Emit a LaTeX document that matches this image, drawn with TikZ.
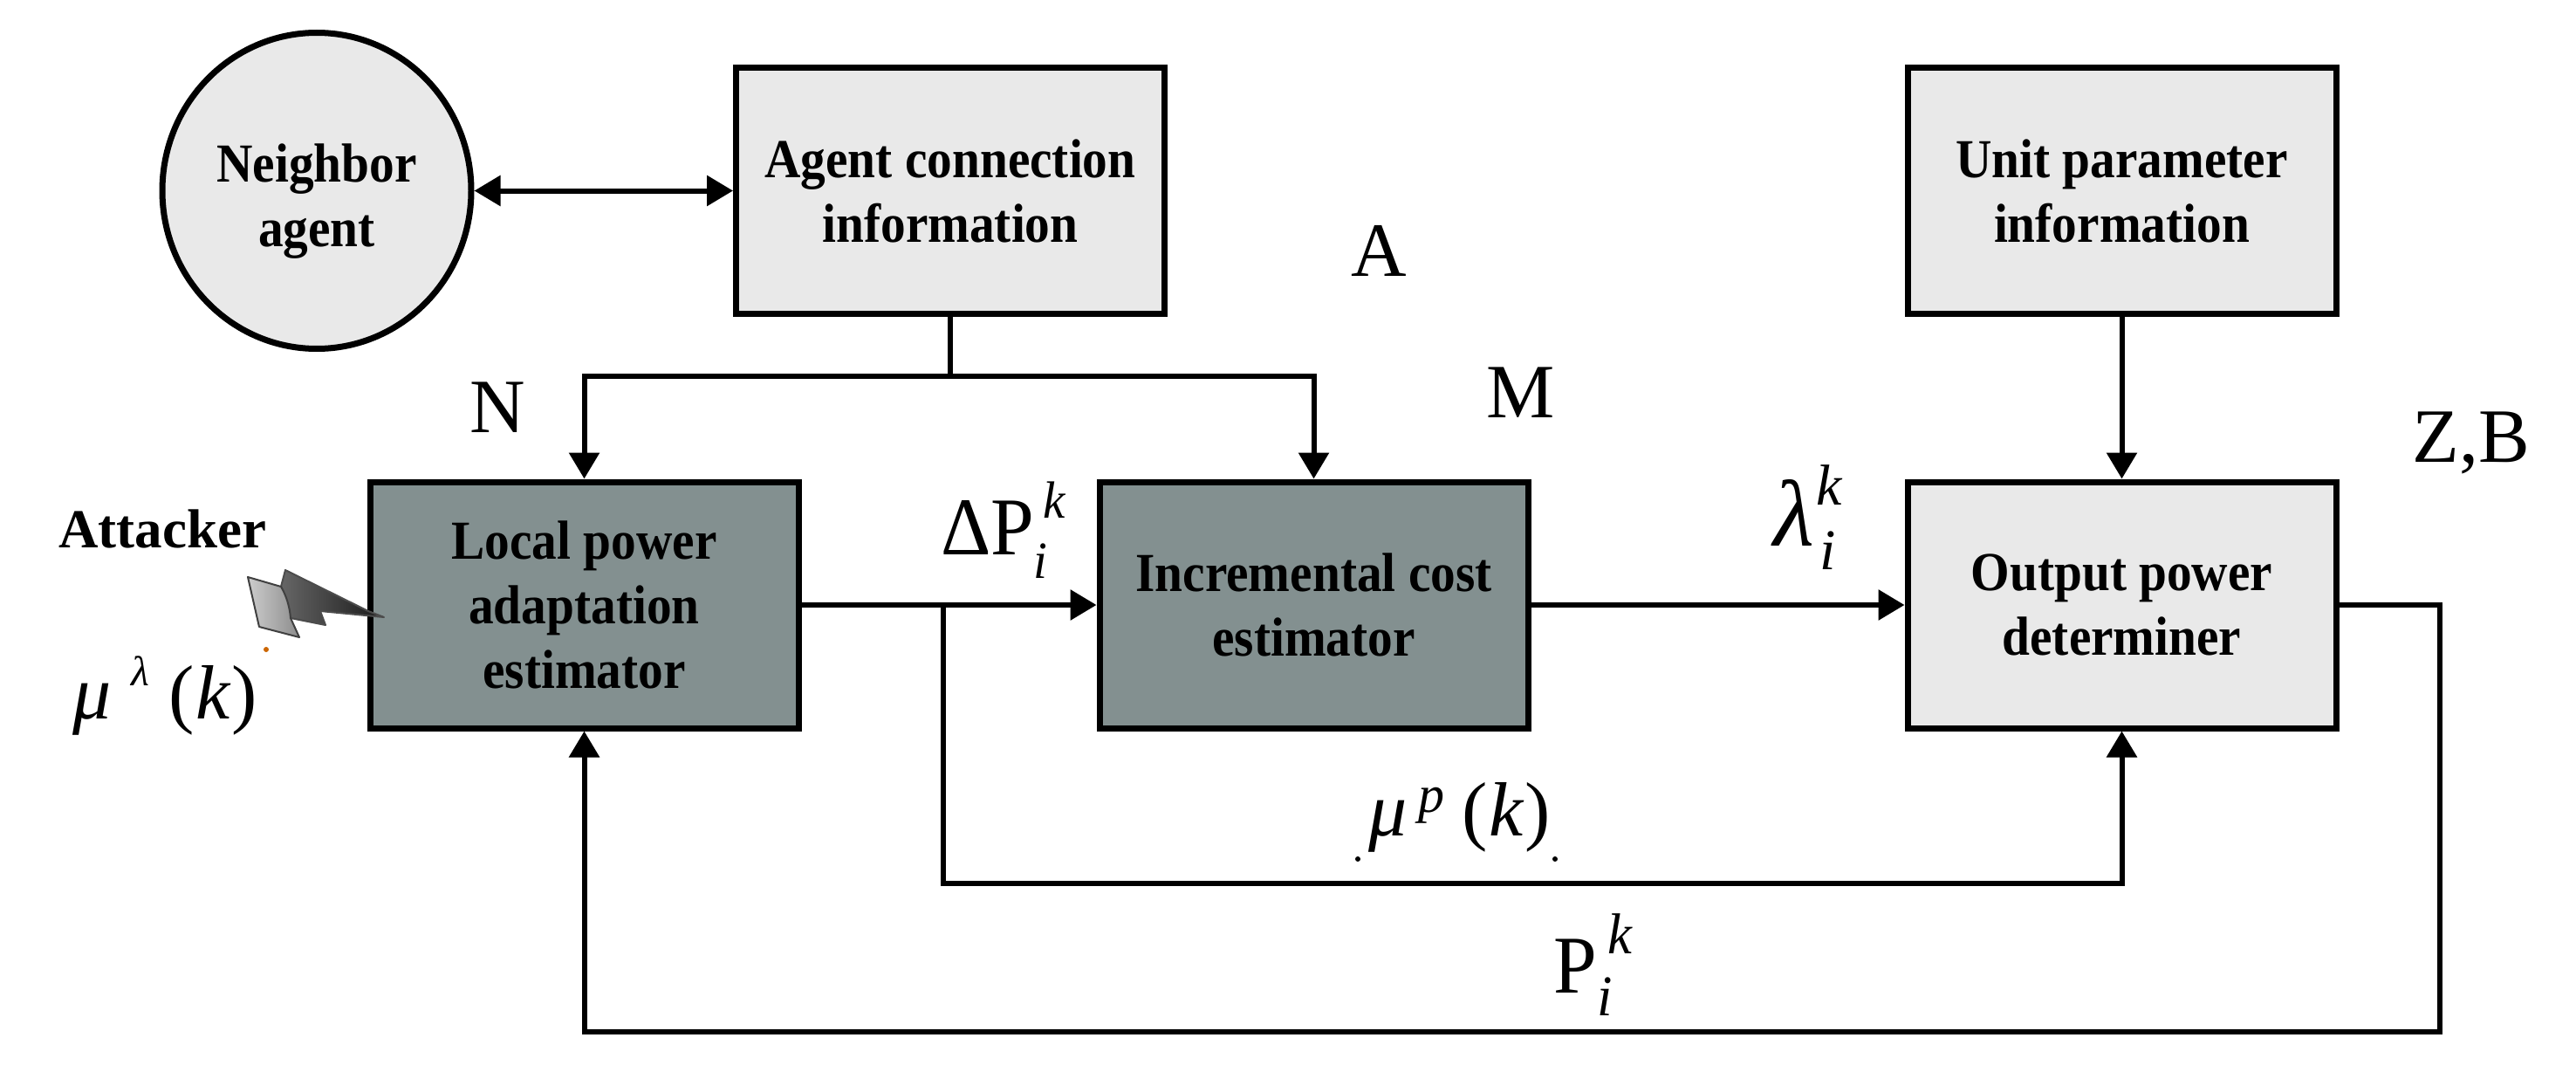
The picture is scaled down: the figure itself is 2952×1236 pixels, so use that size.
\documentclass[tikz,border=0pt]{standalone}
\usepackage{fontspec}
\setmainfont{Liberation Serif}
\newfontfamily\boxfont[FakeStretch=0.91]{Liberation Serif}
\newfontfamily\symfont[FakeStretch=0.95]{Liberation Serif}
\usetikzlibrary{arrows.meta,shapes.geometric}
\definecolor{lightfill}{HTML}{E9E9E9}
\definecolor{darkfill}{HTML}{839090}
% #1 script size, #2 kern of k, #3 raise of k, #4 kern of i, #5 drop of i
\newcommand{\idx}[5]{\rlap{\kern#2\raisebox{#3}{\fontsize{#1}{#1}\selectfont\itshape k}}\rlap{\kern#4\raisebox{-#5}{\fontsize{#1}{#1}\selectfont\itshape i}}}
% #1 gap, #2 superscript size, #3 raise, #4 superscript, #5 gap
\newcommand{\muof}[5]{{\itshape μ}\hspace{#1}\raisebox{#3}{\fontsize{#2}{#2}\selectfont\itshape #4}\hspace{#5}(\kern1pt{\itshape k}\kern1pt)}
\tikzset{
  blk/.style={draw=black,line width=3.5pt,minimum width=245.5pt,minimum height=141pt,inner sep=0pt,align=center,
    font=\boxfont\bfseries\fontsize{31.5}{37}\selectfont},
  lightblk/.style={blk,fill=lightfill},
  darkblk/.style={blk,fill=darkfill},
  agentnode/.style={draw=black,line width=3.5pt,ellipse,fill=lightfill,minimum width=177pt,minimum height=181pt,inner sep=0pt,align=center,
    font=\boxfont\bfseries\fontsize{31.5}{37}\selectfont},
  link/.style={line width=3pt,draw=black,line join=miter},
  arr/.style={link,-{Triangle[length=15pt,width=17pt]}},
  biarr/.style={link,{Triangle[length=15pt,width=17pt]}-{Triangle[length=15pt,width=17pt]}},
  lettertag/.style={anchor=base,inner sep=0pt,font=\fontsize{44}{44}\selectfont},
  symtag/.style={anchor=base west,inner sep=0pt,font=\symfont\fontsize{47}{47}\selectfont},
  lamtag/.style={anchor=base west,inner sep=0pt,font=\fontsize{54}{54}\selectfont},
  mutag/.style={anchor=base west,inner sep=0pt,font=\fontsize{44}{44}\selectfont},
  attacktag/.style={anchor=base west,inner sep=0pt,font=\bfseries\fontsize{31.5}{36}\selectfont},
}
\begin{document}
\begin{tikzpicture}[x=0.5pt,y=-0.5pt]
\path[use as bounding box,fill=white] (0,0) rectangle (2952,1236);
% blocks
\node[agentnode] (neigh) at (363,218.5) {\rule{0pt}{33.5pt}Neighbor\\agent};
\node[lightblk] (agent) at (1089,218.5) {Agent connection\\information};
\node[lightblk] (unit) at (2431.5,218.5) {Unit parameter\\information};
\node[darkblk] (local) at (669.5,693) {Local power\\adaptation\\estimator};
\node[darkblk] (incr) at (1505.5,693) {Incremental cost\\estimator};
\node[lightblk] (output) at (2431.5,693) {Output power\\determiner};
% routing points
\coordinate (split) at (agent.south |- 0,431);
\coordinate (tap) at (1081,693);
\coordinate (lowbus) at (1081,1012);
\coordinate (rightturn) at (2796,693);
\coordinate (botbus) at (2796,1182);
% connectors
\draw[biarr] (neigh.east) -- (agent.west);
\draw[link] (agent.south) -- (split);
\draw[arr] (split) -| (local.north);
\draw[arr] (split) -| (incr.north);
\draw[arr] (unit.south) -- (output.north);
\draw[arr] (local.east) -- (incr.west);
\draw[arr] (incr.east) -- (output.west);
\draw[arr] (tap) -- (lowbus) -| (output.south);
\draw[arr] (output.east) -- (rightturn) -- (botbus) -| (local.south);
% letter labels
\node[lettertag] (lA) at (1580,316) {A};
\node[lettertag] (lM) at (1743,478) {M};
\node[lettertag] (lN) at (570,495) {N};
\node[lettertag] (lZ) at (2832,529) {Z,B};
% signal labels
\node[symtag] (dp) at (1078,635) {ΔP\idx{30}{5pt}{21pt}{-0.5pt}{13.5pt}};
\node[lamtag] (lam) at (2032,625) {{\itshape λ}\idx{33}{1pt}{23.5pt}{3pt}{13.5pt}};
\node[symtag] (pik) at (1780,1137) {P\idx{33}{6pt}{22.5pt}{0pt}{13pt}};
\node[mutag] (mup) at (1568,957) {\muof{6.5pt}{30}{13.5pt}{p}{10pt}};
\node[mutag] (mul) at (83,823) {\muof{11.5pt}{24}{19pt}{λ}{11pt}};
\node[attacktag] (att) at (67,627) {Attacker};
% attacker bolt
\shade[left color=black!60,right color=black!90,draw=black!70,line width=1pt,line join=round]
  (322,672) -- (327,653) -- (422,700) -- (440,707) -- (367,700) -- (373,716) -- (333,708) -- cycle;
\shade[left color=black!20,right color=black!45,draw=black!75,line width=1pt,line join=round]
  (284,661) -- (322,672) .. controls (328,682) and (332,695) .. (333,708) -- (343,730) -- (297,718) -- cycle;
% stray marks
\fill[orange!80!black] (305,744) circle (1.5pt);
\fill[black] (1556,984) circle (1.5pt);
\fill[black] (1782,984) circle (1.5pt);
\end{tikzpicture}
\end{document}
